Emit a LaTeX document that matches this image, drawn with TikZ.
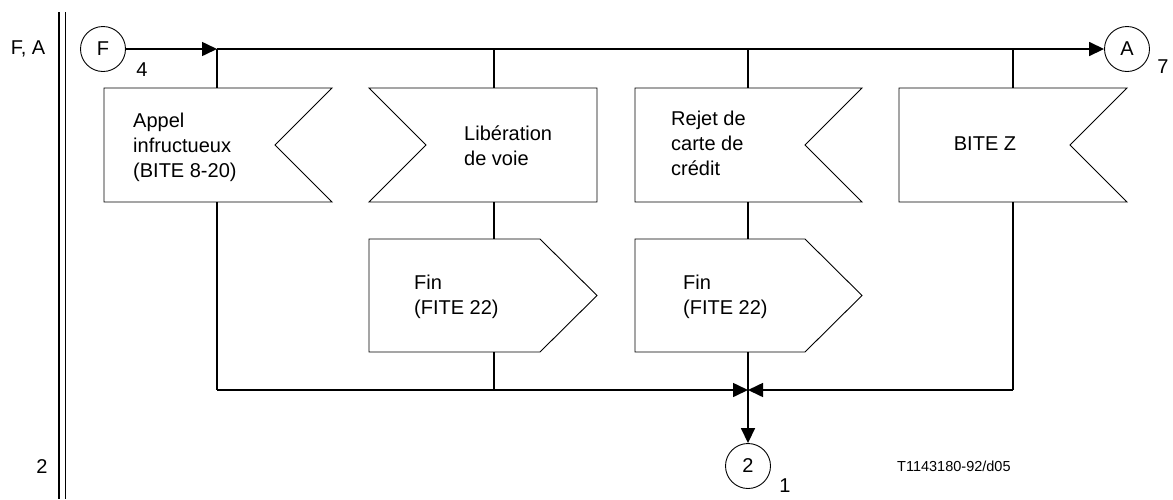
\documentclass[tikz,border=0pt]{standalone}
\usepackage{fontspec}
\setmainfont{Liberation Sans}
\usetikzlibrary{arrows.meta,calc}

\begin{document}
\begin{tikzpicture}[x=1pt,y=-1pt,
  flow/.style={line width=1.6pt},
  outline/.style={line width=0.9pt},
  tip/.style={-{Triangle[length=15pt,width=14pt]}},
  frame/.style={draw=none,inner sep=0pt,outer sep=0pt},
  lbl/.style={inner sep=0pt,font=\fontsize{20}{25}\selectfont},
  txt/.style={inner sep=0pt,anchor=west,align=left,font=\fontsize{20}{25}\selectfont},
  conn/.style={circle,draw,line width=0.9pt,minimum size=45pt,inner sep=0pt,font=\fontsize{20}{25}\selectfont}
]
\useasboundingbox (0,0) rectangle (1173,499);

% left margin: double rule and page references
\draw[flow] (59,12) -- (59,499);
\draw[flow] (65.5,12) -- (65.5,499);
\node[lbl] (fa) at (28,49) {F, A};
\node[lbl] (two) at (42,467) {2};

% connectors
\node[conn] (F) at (103,49) {F};
\node[conn] (A) at (1127,49) {A};
\node[conn] (C2) at (748,466) {2};
\node[lbl] (n4) at (142,70) {4};
\node[lbl] (n7) at (1163,67) {7};
\node[lbl] (n1) at (785,486) {1};

% input symbols (notched) and output symbols (pointed)
\node[frame,minimum width=228pt,minimum height=114pt] (b1) at (218,145) {};
\node[frame,minimum width=228pt,minimum height=114pt] (b2) at (483,145) {};
\node[frame,minimum width=227pt,minimum height=114pt] (b3) at (748.5,145) {};
\node[frame,minimum width=228pt,minimum height=114pt] (b4) at (1013,145) {};
\node[frame,minimum width=228pt,minimum height=113pt] (f1) at (483,295.5) {};
\node[frame,minimum width=227pt,minimum height=113pt] (f2) at (748.5,295.5) {};

\draw[outline] (b1.north west) -- (b1.north east) -- ([xshift=-57pt]b1.east) -- (b1.south east) -- (b1.south west) -- cycle;
\draw[outline] (b2.north west) -- (b2.north east) -- (b2.south east) -- (b2.south west) -- ([xshift=57pt]b2.west) -- cycle;
\draw[outline] (b3.north west) -- (b3.north east) -- ([xshift=-57pt]b3.east) -- (b3.south east) -- (b3.south west) -- cycle;
\draw[outline] (b4.north west) -- (b4.north east) -- ([xshift=-57pt]b4.east) -- (b4.south east) -- (b4.south west) -- cycle;
\draw[outline] (f1.north west) -- ([xshift=-57pt]f1.north east) -- (f1.east) -- ([xshift=-57pt]f1.south east) -- (f1.south west) -- cycle;
\draw[outline] (f2.north west) -- ([xshift=-57pt]f2.north east) -- (f2.east) -- ([xshift=-57pt]f2.south east) -- (f2.south west) -- cycle;

\node[txt] (t1) at (133,147) {Appel\\infructueux\\(BITE 8-20)};
\node[txt] (t2) at (464,146) {Libération\\de voie};
\node[txt] (t3) at (671,143) {Rejet de\\carte de\\crédit};
\node[lbl] (t4) at (985,144) {BITE Z};
\node[txt] (t5) at (414,297) {Fin\\(FITE 22)};
\node[txt] (t6) at (683,297) {Fin\\(FITE 22)};

\node[inner sep=0pt,anchor=west,font=\fontsize{14.5}{17}\selectfont] (ref) at (897,466) {T1143180-92/d05};

% junction points on the flow lines
\coordinate (j1) at (217,49);
\coordinate (j2) at (494,49);
\coordinate (j3) at (748,49);
\coordinate (j4) at (1013,49);
\coordinate (k1) at (217,390);
\coordinate (k2) at (494,390);
\coordinate (k4) at (1013,390);
\coordinate (J) at (748,390);

% top flow line
\draw[flow,tip] (F) -- (j1);
\draw[flow,tip] (j1) -- (A);
\draw[flow] (j1) -- (j1 |- b1.north);
\draw[flow] (j2) -- (j2 |- b2.north);
\draw[flow] (j3) -- (j3 |- b3.north);
\draw[flow] (j4) -- (j4 |- b4.north);

% branches down to the merge line
\draw[flow] (j1 |- b1.south) -- (k1);
\draw[flow] (j2 |- b2.south) -- (j2 |- f1.north);
\draw[flow] (j2 |- f1.south) -- (k2);
\draw[flow] (j3 |- b3.south) -- (j3 |- f2.north);
\draw[flow] (j3 |- f2.south) -- (J);
\draw[flow] (j4 |- b4.south) -- (k4);

% merge line
\draw[flow,tip] (k1) -- (J);
\draw[flow,tip] (k4) -- (J);
\draw[flow,tip] (J) -- (C2);
\end{tikzpicture}
\end{document}
